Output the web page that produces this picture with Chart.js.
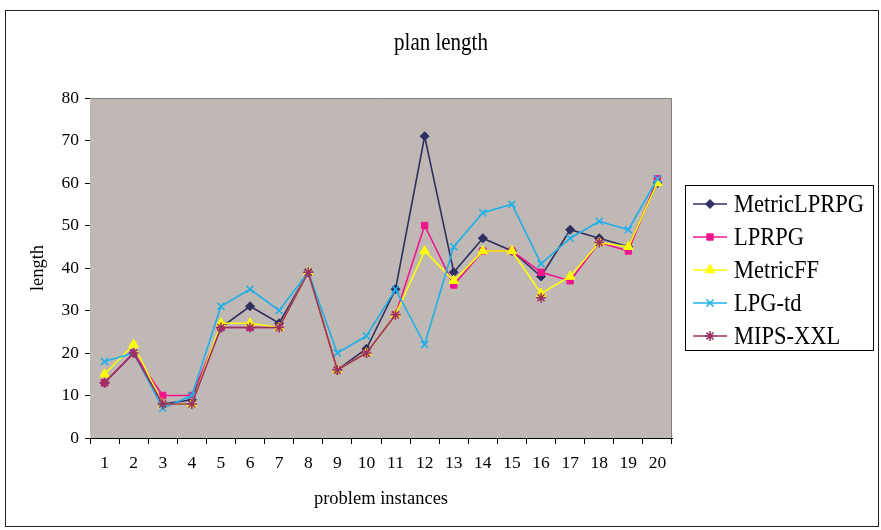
<!DOCTYPE html>
<html>
<head>
<meta charset="utf-8">
<title>plan length</title>
<script src="https://cdn.jsdelivr.net/npm/chart.js@4/dist/chart.umd.min.js"></script>
<style>
  html, body { margin: 0; padding: 0; background: #fff; }
  #wrap { width: 881px; height: 530px; }
</style>
</head>
<body>
<div id="wrap"><canvas id="planChart" width="881" height="530"></canvas></div>
<script>
// problem instances on the x axis
var instances = ['1', '2', '3', '4', '5', '6', '7', '8', '9', '10',
                 '11', '12', '13', '14', '15', '16', '17', '18', '19', '20'];

// plan length per planner
var metricLprpg = [13, 20, 8, 9, 26, 31, 27, 39, 16, 21, 35, 71, 39, 47, 44, 38, 49, 47, 45, 60];
var lprpg       = [13, 20, 10, 10, 26, 26, 26, 39, 16, 20, 29, 50, 36, 44, 44, 39, 37, 46, 44, 61];
var metricFF    = [15, 22, 8, 8, 27, 27, 26, 39, 16, 20, 29, 44, 37, 44, 44, 34, 38, 46, 45, 60];
var lpgTd       = [18, 20, 7, 10, 31, 35, 30, 39, 20, 24, 35, 22, 45, 53, 55, 41, 47, 51, 49, 61];
// MIPS-XXL has no plan for some of the later instances
var mipsXxl     = [13, 20, 8, 8, 26, 26, 26, 39, 16, 20, 29, null, null, null, null, 33, null, 46, null, null];

var serif = "'Liberation Serif', 'Times New Roman', serif";

function series(label, data, color, style, radius, order) {
    return {
        label: label,
        data: data,
        order: order, // later series are painted on top
        borderColor: color,
        backgroundColor: color,
        borderWidth: 1.6,
        pointStyle: style,
        pointRadius: radius,
        pointBorderWidth: style === 'crossRot' || style === 'star' ? 1.6 : 1,
        pointBorderColor: color,
        pointBackgroundColor: color,
        tension: 0,
        spanGaps: false
    };
}

var datasets = [
    series('MetricLPRPG', metricLprpg, '#2f2f62', 'rectRot', 4.5, 5),
    series('LPRPG', lprpg, '#f0158c', 'rect', 4.5, 4),
    series('MetricFF', metricFF, '#ffff00', 'triangle', 5.5, 3),
    series('LPG-td', lpgTd, '#1cb0e8', 'crossRot', 5, 2),
    series('MIPS-XXL', mipsXxl, '#993366', 'star', 5, 1)
];

// text drawn a little taller than wide, like the rest of the sheet
function tallText(ctx, text, x, y) {
    ctx.save();
    ctx.translate(x, y);
    ctx.scale(1, 1.15);
    ctx.fillText(text, 0, 0);
    ctx.restore();
}

// frame, title, grey plot background and the boxed legend on the right
var excelLook = {
    id: 'excelLook',
    beforeDatasetsDraw: function (chart) {
        var ctx = chart.ctx, a = chart.chartArea;
        ctx.save();
        ctx.fillStyle = '#c0b8b5';
        ctx.fillRect(a.left, a.top, a.right - a.left, a.bottom - a.top);
        ctx.strokeStyle = '#808080';
        ctx.lineWidth = 1;
        ctx.beginPath();
        ctx.moveTo(a.left, a.top + 0.5);
        ctx.lineTo(a.right - 0.5, a.top + 0.5);
        ctx.lineTo(a.right - 0.5, a.bottom);
        ctx.stroke();
        ctx.restore();
    },
    afterDraw: function (chart) {
        var ctx = chart.ctx;
        ctx.save();
        ctx.strokeStyle = '#222';
        ctx.lineWidth = 1;
        ctx.strokeRect(5.5, 10.5, 873, 516);

        ctx.fillStyle = '#000';
        ctx.font = '21px ' + serif;
        ctx.textAlign = 'center';
        ctx.textBaseline = 'middle';
        tallText(ctx, 'plan length', 441, 44);

        // legend
        ctx.strokeStyle = '#000';
        ctx.strokeRect(685.5, 185.5, 188, 165);
        ctx.font = '22.5px ' + serif;
        ctx.textAlign = 'left';
        chart.data.datasets.forEach(function (ds, i) {
            var y = 204 + i * 33;
            ctx.strokeStyle = ds.borderColor;
            ctx.fillStyle = ds.borderColor;
            ctx.lineWidth = 1.6;
            ctx.beginPath();
            ctx.moveTo(693, y);
            ctx.lineTo(727, y);
            ctx.stroke();
            ctx.lineWidth = ds.pointBorderWidth;
            Chart.helpers.drawPoint(ctx, {
                pointStyle: ds.pointStyle,
                radius: ds.pointRadius,
                borderWidth: ds.pointBorderWidth,
                rotation: 0
            }, 710, y);
            ctx.fillStyle = '#000';
            tallText(ctx, ds.label, 734, y + 1);
        });
        ctx.restore();
    }
};

new Chart(document.getElementById('planChart').getContext('2d'), {
    type: 'line',
    data: {
        labels: instances,
        datasets: datasets
    },
    options: {
        responsive: false,
        animation: false,
        devicePixelRatio: 1,
        layout: {
            padding: { left: 20, right: 209, top: 98, bottom: 20 }
        },
        plugins: {
            legend: { display: false },
            title: { display: false },
            tooltip: { enabled: false }
        },
        scales: {
            x: {
                offset: true,
                grid: {
                    offset: true,
                    drawOnChartArea: false,
                    drawTicks: true,
                    tickLength: 6,
                    color: '#000'
                },
                border: { color: '#000', width: 1 },
                ticks: {
                    color: '#000',
                    font: { family: serif, size: 17.5 },
                    padding: 9,
                    maxRotation: 0,
                    autoSkip: false
                },
                title: {
                    display: true,
                    text: 'problem instances',
                    color: '#000',
                    font: { family: serif, size: 18.5 },
                    padding: { top: 0, bottom: 0 }
                },
                afterFit: function (scale) { scale.height = 72; }
            },
            y: {
                min: 0,
                max: 80,
                grid: {
                    drawOnChartArea: false,
                    drawTicks: true,
                    tickLength: 5,
                    color: '#000'
                },
                border: { color: '#000', width: 1 },
                ticks: {
                    stepSize: 10,
                    color: '#000',
                    font: { family: serif, size: 17.5 },
                    padding: 6
                },
                title: {
                    display: true,
                    text: 'length',
                    color: '#000',
                    font: { family: serif, size: 18.5 },
                    padding: { top: 7, bottom: 0 }
                },
                afterFit: function (scale) { scale.width = 70; }
            }
        }
    },
    plugins: [excelLook]
});
</script>
</body>
</html>
